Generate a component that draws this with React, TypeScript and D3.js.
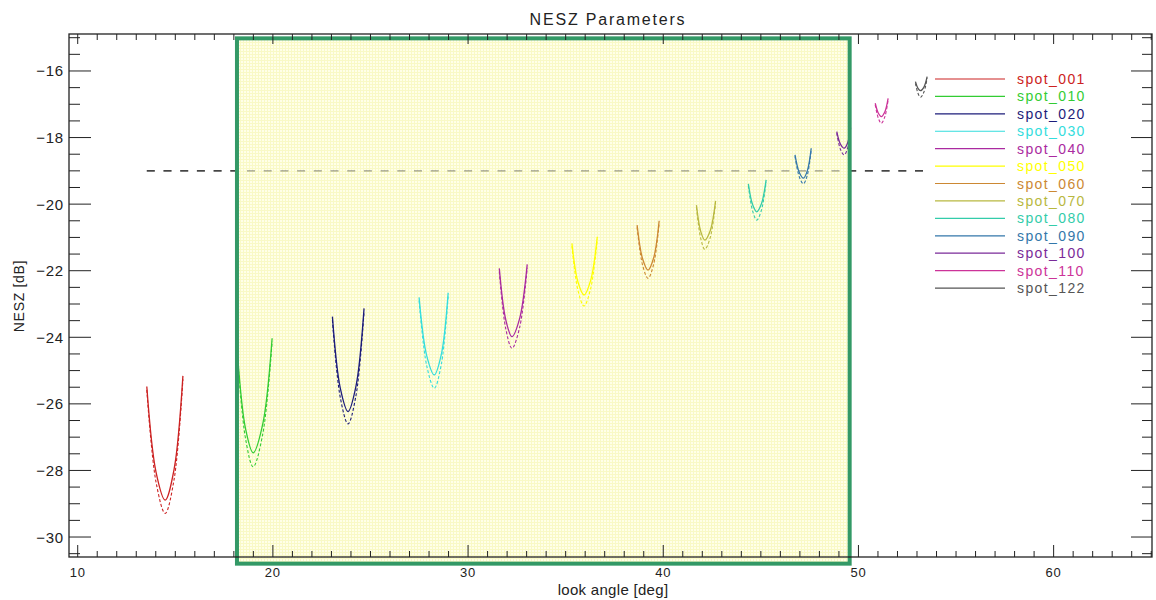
import React from "react";
import * as d3 from "d3";

const spotNames = ["spot_001","spot_010","spot_020","spot_030","spot_040","spot_050","spot_060","spot_070","spot_080","spot_090","spot_100","spot_110","spot_122"];
const spotColors = ["#cc2222","#33cc33","#1c1c7a","#33dddd","#aa2aa0","#ffff00","#cc8833","#b8b840","#33ccaa","#3377aa","#7a2a99","#cc3399","#555555"];

// solid NESZ curves: [look angle deg, NESZ dB]
const solidCurves: number[][][] = [
  [[13.54,-25.48],[14.01,-28.04],[14.48,-28.89],[14.94,-27.96],[15.39,-25.16]],
  [[18.2,-24.6],[18.6,-26.75],[18.99,-27.47],[19.48,-26.61],[19.96,-24.03]],
  [[23.05,-23.38],[23.45,-25.52],[23.85,-26.23],[24.26,-25.46],[24.67,-23.13]],
  [[27.49,-22.80],[27.88,-24.55],[28.27,-25.13],[28.63,-24.51],[28.98,-22.66]],
  [[31.60,-21.93],[31.93,-23.47],[32.25,-23.98],[32.64,-23.44],[33.03,-21.81]],
  [[35.32,-21.18],[35.63,-22.34],[35.94,-22.73],[36.28,-22.29],[36.62,-20.98]],
  [[38.66,-20.63],[38.94,-21.64],[39.22,-21.98],[39.51,-21.61],[39.79,-20.50]],
  [[41.70,-20.03],[41.92,-20.82],[42.13,-21.08],[42.41,-20.79],[42.68,-19.90]],
  [[44.36,-19.39],[44.58,-20.02],[44.79,-20.23],[45.03,-19.99],[45.27,-19.27]],
  [[46.75,-18.52],[46.97,-19.05],[47.18,-19.22],[47.38,-19.00],[47.58,-18.32]],
  [[48.89,-17.82],[49.08,-18.20],[49.27,-18.32],[49.44,-18.17],[49.60,-17.70]],
  [[50.86,-16.97],[51.02,-17.27],[51.17,-17.37],[51.35,-17.23],[51.52,-16.82]],
  [[52.92,-16.32],[53.05,-16.52],[53.18,-16.59],[53.35,-16.49],[53.52,-16.17]],
];

// dashed NESZ curves
const dashedCurves: number[][][] = [
  [[13.54,-25.58],[14.01,-28.34],[14.48,-29.29],[14.94,-28.26],[15.39,-25.26]],
  [[18.2,-24.7],[18.6,-27.05],[18.99,-27.89],[19.48,-26.91],[19.96,-24.13]],
  [[23.05,-23.48],[23.45,-25.80],[23.85,-26.60],[24.26,-25.74],[24.67,-23.23]],
  [[27.49,-22.90],[27.88,-24.85],[28.27,-25.53],[28.63,-24.81],[28.98,-22.76]],
  [[31.60,-22.03],[31.93,-23.74],[32.25,-24.33],[32.64,-23.71],[33.03,-21.91]],
  [[35.32,-21.26],[35.63,-22.59],[35.94,-23.06],[36.28,-22.54],[36.62,-21.06]],
  [[38.66,-20.70],[38.94,-21.83],[39.22,-22.23],[39.51,-21.80],[39.79,-20.57]],
  [[41.70,-20.10],[41.92,-21.03],[42.13,-21.36],[42.41,-21.00],[42.68,-19.97]],
  [[44.36,-19.45],[44.58,-20.21],[44.79,-20.48],[45.03,-20.18],[45.27,-19.33]],
  [[46.75,-18.57],[46.97,-19.18],[47.18,-19.39],[47.38,-19.13],[47.58,-18.37]],
  [[48.89,-17.87],[49.08,-18.36],[49.27,-18.52],[49.44,-18.33],[49.60,-17.75]],
  [[50.86,-17.02],[51.02,-17.42],[51.17,-17.57],[51.35,-17.38],[51.52,-16.87]],
  [[52.92,-16.37],[53.05,-16.67],[53.18,-16.79],[53.35,-16.64],[53.52,-16.22]],
];

const thresholdDb = -19;
const thresholdRange = [13.54, 53.6];
const highlightX = [18.16, 49.55];
const highlightY = [-30.8, -15.02];

const xMajorTicks = [10, 20, 30, 40, 50, 60];
const xMinorTicks = d3.range(10, 66, 1);
const yMajorTicks = [-30, -28, -26, -24, -22, -20, -18, -16];
const yMinorTicks = d3.range(-30.5, -14.9, 0.5);

const W = 1156, H = 600;
const L = 69, R = 1152, T = 34, B = 557;
const FONT = "'Liberation Sans', Arial, sans-serif";

export default function App() {
  const x = d3.scaleLinear().domain([9.554, 65.04]).range([L, R]);
  const y = d3.scaleLinear().domain([-30.6, -14.889]).range([B, T]);
  const line = d3.line<number[]>().x(d => x(d[0])).y(d => y(d[1])).curve(d3.curveCatmullRom.alpha(0.5));

  const legendY0 = 79, legendDy = 17.42;
  const bx = x(highlightX[0]), by = y(highlightY[1]);
  const bw = x(highlightX[1]) - bx, bh = y(highlightY[0]) - by;
  const ty = y(thresholdDb);

  return (
    <svg width={W} height={H} style={{ position: "absolute", left: 0, top: 0, background: "#fff" }} fontFamily={FONT}>
      <defs>
        <pattern id="grid" width="3" height="3" patternUnits="userSpaceOnUse">
          <rect width="3" height="3" fill="#ffffe8" />
          <path d="M0 0.5H3M0.5 0V3" stroke="#f9f9c6" strokeWidth="1" />
        </pattern>
      </defs>
      <rect x={0} y={0} width={W} height={H} fill="#fff" />

      {/* threshold line */}
      <line x1={x(thresholdRange[0])} x2={x(thresholdRange[1])} y1={ty} y2={ty}
        stroke="#222" strokeWidth={1.3} strokeDasharray="8 8.7" />

      {/* highlight box fill */}
      <rect x={bx} y={by} width={bw} height={bh} fill="url(#grid)" />
      <line x1={x(thresholdRange[0])} x2={x(thresholdRange[1])} y1={ty} y2={ty}
        stroke="#222" strokeOpacity={0.45} strokeWidth={1.3} strokeDasharray="8 8.7" />

      {/* curves */}
      {solidCurves.map((c, i) => (
        <path key={"s" + i} d={line(c) || ""} fill="none" stroke={spotColors[i]} strokeWidth={1.3} />
      ))}
      {dashedCurves.map((c, i) => (
        <path key={"d" + i} d={line(c) || ""} fill="none" stroke={spotColors[i]} strokeWidth={1.1} strokeDasharray="3 2" />
      ))}

      {/* highlight box border */}
      <rect x={bx} y={by} width={bw} height={bh} fill="none" stroke="#339966" strokeWidth={4} />

      {/* axes frame */}
      <rect x={L} y={T} width={R - L} height={B - T} fill="none" stroke="#222" strokeWidth={1.3} />
      {xMinorTicks.map(t => {
        const major = t % 10 === 0;
        return (
          <g key={"xt" + t}>
            <line x1={x(t)} x2={x(t)} y1={B} y2={B - (major ? 12 : 6)} stroke="#222" strokeWidth={1} />
            <line x1={x(t)} x2={x(t)} y1={T} y2={T + (major ? 10 : 6)} stroke="#222" strokeWidth={1} />
          </g>
        );
      })}
      {yMinorTicks.map(t => {
        const major = Math.abs(t % 2) < 1e-6;
        return (
          <g key={"yt" + t}>
            <line x1={L} x2={L + (major ? 22 : 11)} y1={y(t)} y2={y(t)} stroke="#222" strokeWidth={1} />
            <line x1={R} x2={R - (major ? 21 : 10)} y1={y(t)} y2={y(t)} stroke="#222" strokeWidth={1} />
          </g>
        );
      })}
      {xMajorTicks.map(t => (
        <text key={"xl" + t} x={x(t)} y={577} textAnchor="middle" fontSize={13} letterSpacing={0.8} fill="#222">{t}</text>
      ))}
      {yMajorTicks.map(t => (
        <text key={"yl" + t} x={64} y={y(t) + 5.5} textAnchor="end" fontSize={15} letterSpacing={0.8} fill="#222">{"\u2212" + Math.abs(t)}</text>
      ))}

      {/* titles */}
      <text x={608} y={25} textAnchor="middle" fontSize={16} letterSpacing={1.8} fill="#222">NESZ Parameters</text>
      <text x={613} y={595} textAnchor="middle" fontSize={15} letterSpacing={0.3} fill="#222">look angle [deg]</text>
      <text transform="translate(24,296) rotate(-90)" textAnchor="middle" fontSize={14} letterSpacing={0.7} fill="#222">NESZ [dB]</text>

      {/* legend */}
      {spotNames.map((n, i) => (
        <g key={"lg" + n}>
          <line x1={935} x2={1005} y1={legendY0 + i * legendDy} y2={legendY0 + i * legendDy} stroke={spotColors[i]} strokeWidth={1.2} />
          <text x={1017} y={legendY0 + i * legendDy + 5} fontSize={14} letterSpacing={1.4} fill={spotColors[i]}>{n}</text>
        </g>
      ))}
    </svg>
  );
}
